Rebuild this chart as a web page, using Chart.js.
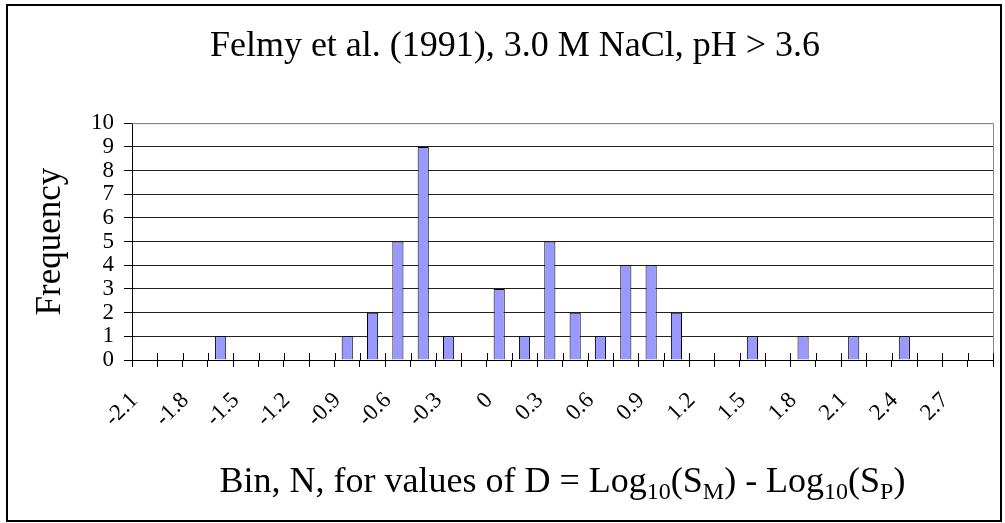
<!DOCTYPE html>
<html>
<head>
<meta charset="utf-8">
<script src="https://cdn.jsdelivr.net/npm/chart.js@4.4.0/dist/chart.umd.min.js"></script>
<style>
  body { margin: 0; background: #fff; }
  #wrap { position: relative; width: 1005px; height: 523px; }
</style>
</head>
<body>
<div id="wrap"><canvas id="histo"></canvas></div>
<script>
// bins, every other one is labelled on the axis
var binLabels = ['-2.1', '', '-1.8', '', '-1.5', '', '-1.2', '', '-0.9', '', '-0.6', '',
                 '-0.3', '', '0', '', '0.3', '', '0.6', '', '0.9', '', '1.2', '',
                 '1.5', '', '1.8', '', '2.1', '', '2.4', '', '2.7', ''];
var frequency = [0, 0, 0, 1, 0, 0, 0, 0, 1, 2, 5, 9, 1, 0, 3, 1, 5, 2,
                 1, 4, 4, 2, 0, 0, 1, 0, 1, 0, 1, 0, 1, 0, 0, 0];
var yTicks = [0, 1, 2, 3, 4, 5, 6, 7, 8, 9, 10];

var serif = 'Liberation Serif';

// outer frame, plot border, crossing ticks and the x title with subscripts
var decor = {
    id: 'decor',
    afterDraw: function(chart) {
        var ctx = chart.ctx;
        var area = chart.chartArea;
        var xs = chart.scales.x;
        ctx.save();

        ctx.strokeStyle = '#000';
        ctx.lineWidth = 2;
        ctx.strokeRect(7, 5, 994, 516);

        ctx.strokeStyle = '#888';
        ctx.lineWidth = 1;
        ctx.beginPath();
        ctx.moveTo(area.left, area.top + 0.5);
        ctx.lineTo(area.right + 0.5, area.top + 0.5);
        ctx.lineTo(area.right + 0.5, area.bottom);
        ctx.stroke();

        // tick marks cross the axis
        ctx.strokeStyle = '#000';
        ctx.beginPath();
        var n = binLabels.length;
        for (var i = 0; i <= n; i++) {
            var px = Math.round(xs.left + i * (xs.right - xs.left) / n) + 0.5;
            ctx.moveTo(px, area.bottom - 7);
            ctx.lineTo(px, area.bottom);
        }
        ctx.stroke();

        // x title
        var big = '36px "' + serif + '"';
        var small = '24px "' + serif + '"';
        var parts = [
            ['Bin, N, for values of D = Log', big, 0],
            ['10', small, 7],
            ['(S', big, 0],
            ['M', small, 7],
            [') - Log', big, 0],
            ['10', small, 7],
            ['(S', big, 0],
            ['P', small, 7],
            [')', big, 0]
        ];
        var total = 0;
        parts.forEach(function(p) { ctx.font = p[1]; total += ctx.measureText(p[0]).width; });
        var x = (area.left + area.right) / 2 - total / 2;
        var base = 492;
        ctx.fillStyle = '#000';
        ctx.textBaseline = 'alphabetic';
        ctx.textAlign = 'left';
        parts.forEach(function(p) {
            ctx.font = p[1];
            ctx.fillText(p[0], x, base + p[2]);
            x += ctx.measureText(p[0]).width;
        });
        ctx.restore();
    }
};

new Chart(document.getElementById('histo'), {
    type: 'bar',
    data: {
        labels: binLabels,
        datasets: [{
            label: 'Frequency',
            data: frequency,
            backgroundColor: '#9999FF',
            borderColor: '#000',
            borderWidth: 1,
            categoryPercentage: 1,
            barPercentage: 0.44
        }]
    },
    options: {
        responsive: true,
        maintainAspectRatio: false,
        animation: false,
        layout: { padding: { left: 37, right: 12, top: 5, bottom: 0 } },
        plugins: {
            legend: { display: false },
            tooltip: { enabled: false },
            title: {
                display: true,
                text: 'Felmy et al. (1991), 3.0 M NaCl, pH > 3.6',
                color: '#000',
                font: { family: serif, size: 36, weight: 'normal' },
                padding: { top: 20, bottom: 55 }
            }
        },
        scales: {
            x: {
                afterFit: function(scale) {
                    scale.height = 163;
                    scale.paddingLeft = 0;
                    scale.paddingRight = 0;
                },
                grid: {
                    display: true,
                    drawOnChartArea: false,
                    drawTicks: true,
                    tickLength: 7,
                    color: '#000'
                },
                border: { color: '#000', width: 1 },
                ticks: {
                    autoSkip: false,
                    minRotation: 45,
                    maxRotation: 45,
                    labelOffset: -10,
                    padding: 20,
                    color: '#000',
                    font: { family: serif, size: 23 }
                }
            },
            y: {
                min: 0,
                max: 10,
                afterFit: function(scale) { scale.width = 95; },
                afterBuildTicks: function(scale) {
                    scale.ticks = yTicks.map(function(v) { return { value: v }; });
                },
                grid: {
                    color: function(c) { return c.tick && c.tick.value === 10 ? '#888' : '#222'; },
                    tickColor: '#000',
                    tickLength: 8,
                    lineWidth: 1
                },
                border: { color: '#000', width: 1 },
                ticks: {
                    autoSkip: false,
                    padding: 10,
                    color: '#000',
                    font: { family: serif, size: 23 }
                },
                title: {
                    display: true,
                    text: 'Frequency',
                    color: '#000',
                    font: { family: serif, size: 35, lineHeight: 1 },
                    padding: { top: -4, bottom: 0 }
                }
            }
        }
    },
    plugins: [decor]
});
</script>
</body>
</html>
